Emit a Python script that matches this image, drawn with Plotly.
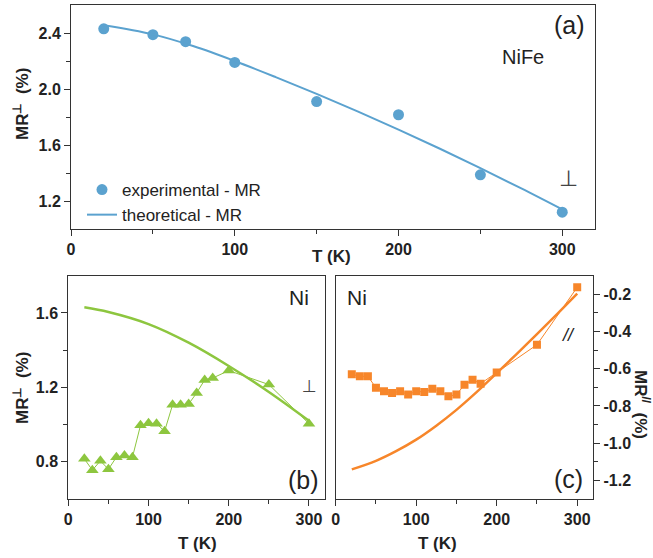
import plotly.graph_objects as go

# ---------------- data ----------------
# (a) NiFe, perpendicular
T_a_exp = [20, 50, 70, 100, 150, 200, 250, 300]
MR_a_exp = [2.43, 2.388, 2.338, 2.19, 1.91, 1.816, 1.387, 1.12]
T_a_th = [20, 50, 75, 100, 125, 150, 175, 200, 225, 250, 275, 300]
MR_a_th = [2.455, 2.39, 2.305, 2.20, 2.085, 1.965, 1.84, 1.71, 1.575, 1.435, 1.29, 1.14]

# (b) Ni, perpendicular
T_b_exp = [20, 30, 40, 50, 60, 70, 80, 90, 100, 110, 120, 130, 140, 150, 160, 170, 180, 200, 250, 300]
MR_b_exp = [0.816, 0.755, 0.805, 0.76, 0.825, 0.834, 0.825, 0.996, 1.007, 1.005, 0.964, 1.106,
            1.106, 1.11, 1.17, 1.24, 1.25, 1.29, 1.215, 1.005]
T_b_th = [20, 50, 100, 150, 200, 250, 300]
MR_b_th = [1.63, 1.605, 1.54, 1.44, 1.315, 1.175, 1.02]

# (c) Ni, parallel
T_c_exp = [20, 30, 40, 50, 60, 70, 80, 90, 100, 110, 120, 130, 140, 150, 160, 170, 180, 200, 250, 300]
MR_c_exp = [-0.629, -0.641, -0.641, -0.702, -0.721, -0.730, -0.721, -0.739, -0.721, -0.725, -0.707,
            -0.721, -0.748, -0.739, -0.686, -0.659, -0.68, -0.62, -0.471, -0.1625]
T_c_th = [20, 50, 75, 100, 125, 150, 175, 200, 225, 250, 275, 300]
MR_c_th = [-1.141, -1.095, -1.043, -0.981, -0.906, -0.821, -0.726, -0.624, -0.52, -0.414, -0.306, -0.196]

x_ticks = [0, 100, 200, 300]
ya_ticks = [1.2, 1.6, 2.0, 2.4]
yb_ticks = [0.8, 1.2, 1.6]
yc_ticks = [-1.2, -1.0, -0.8, -0.6, -0.4, -0.2]
yc_labels = ["-1.2", "-1.0", "-0.8", "-0.6", "-0.4", "-0.2"]

BLUE = "#5BA2CF"
GREEN = "#8DC63F"
ORANGE = "#F7862A"
AX = "#333333"
TXT = "#222222"
FONT = "Liberation Sans"

W, H = 653, 558

def dx(a, b):
    return [a / W, b / W]

def dy(top, bot):
    return [1 - bot / H, 1 - top / H]

fig = go.Figure()

# panel (a)
fig.add_trace(go.Scatter(x=T_a_exp, y=MR_a_exp, mode="markers", name="experimental - MR",
                         marker=dict(symbol="circle", size=11, color=BLUE),
                         xaxis="x", yaxis="y"))
fig.add_trace(go.Scatter(x=T_a_th, y=MR_a_th, mode="lines", name="theoretical - MR",
                         line=dict(color=BLUE, width=2, shape="spline"),
                         xaxis="x", yaxis="y"))
# panel (b)
fig.add_trace(go.Scatter(x=T_b_exp, y=MR_b_exp, mode="lines+markers", showlegend=False,
                         marker=dict(symbol="triangle-up", size=11, color=GREEN),
                         line=dict(color=GREEN, width=1),
                         xaxis="x2", yaxis="y2"))
fig.add_trace(go.Scatter(x=T_b_th, y=MR_b_th, mode="lines", showlegend=False,
                         line=dict(color=GREEN, width=2.5, shape="spline"),
                         xaxis="x2", yaxis="y2"))
# panel (c)
fig.add_trace(go.Scatter(x=T_c_exp, y=MR_c_exp, mode="lines+markers", showlegend=False,
                         marker=dict(symbol="square", size=8, color=ORANGE),
                         line=dict(color=ORANGE, width=1),
                         xaxis="x3", yaxis="y3"))
fig.add_trace(go.Scatter(x=T_c_th, y=MR_c_th, mode="lines", showlegend=False,
                         line=dict(color=ORANGE, width=2.5, shape="spline"),
                         xaxis="x3", yaxis="y3"))

tickfont = dict(family=FONT, size=16, color=TXT, weight="bold")

def xax(domain, anchor):
    return dict(domain=domain, anchor=anchor, range=[0, 320], tickvals=x_ticks,
                ticks="outside", ticklen=6, tickwidth=1, tickcolor=AX,
                showline=True, linecolor=AX, linewidth=1, mirror=True,
                showgrid=False, zeroline=False, tickfont=tickfont, automargin=False,
                minor=dict(tickvals=[50, 150, 250], ticks="outside", ticklen=4, tickcolor=AX))

def yax(domain, anchor, rng, tv, minor_vals, side="left", tt=None):
    d = dict(domain=domain, anchor=anchor, range=rng, tickvals=tv, side=side,
             tickformat=".1f",
             ticks="outside", ticklen=6, tickwidth=1, tickcolor=AX,
             showline=True, linecolor=AX, linewidth=1, mirror=True,
             showgrid=False, zeroline=False, tickfont=tickfont, automargin=False,
             minor=dict(tickvals=minor_vals, ticks="outside", ticklen=4, tickcolor=AX))
    if tt is not None:
        d["ticktext"] = tt
    return d

fig.update_layout(
    width=W, height=H, margin=dict(l=0, r=0, t=0, b=0),
    paper_bgcolor="white", plot_bgcolor="white",
    xaxis=xax(dx(71, 595), "y"),
    yaxis=yax(dy(5, 229), "x", [1.0, 2.6], ya_ticks, [1.4, 1.8, 2.2]),
    xaxis2=xax(dx(68.3, 325), "y2"),
    yaxis2=yax(dy(275.7, 499), "x2", [0.6, 1.8], yb_ticks, [1.0, 1.4]),
    xaxis3=xax(dx(335.7, 593.3), "y3"),
    yaxis3=yax(dy(275.7, 499), "x3", [-1.3, -0.1], yc_ticks,
               [-1.1, -0.9, -0.7, -0.5, -0.3], side="right", tt=yc_labels),
    legend=dict(x=82 / W, y=1 - 172 / H, xanchor="left", yanchor="top",
                bgcolor="rgba(0,0,0,0)", font=dict(family=FONT, size=17, color=TXT),
                tracegroupgap=0),
    showlegend=True,
)

def ann(text, x, y, size, angle=0, bold=False, italic=False, family=FONT, color=TXT):
    fig.add_annotation(text=text, x=x / W, y=1 - y / H, xref="paper", yref="paper",
                       showarrow=False, textangle=angle, xanchor="center", yanchor="middle",
                       font=dict(family=family, size=size, color=color,
                                 weight="bold" if bold else "normal",
                                 style="italic" if italic else "normal"))

# axis titles
ann("T (K)", 331, 256, 17, bold=True)
ann("T (K)", 197, 543, 17, bold=True)
ann("T (K)", 437, 543, 17, bold=True)
ann("MR<sup>⊥</sup>  (%)", 21, 104, 17, angle=-90, bold=True)
ann("MR<sup>⊥</sup>  (%)", 21, 388, 17, angle=-90, bold=True)
ann("MR<sup>//</sup>  (%)", 642, 404, 17, angle=90, bold=True)

# panel labels
ann("(a)", 569, 25, 25)
ann("NiFe", 523, 57, 20)
ann("⊥", 568, 179, 22, family="DejaVu Sans", color="#444444")
ann("Ni", 299, 297, 21)
ann("⊥", 309, 386, 17, family="DejaVu Sans", color="#444444")
ann("(b)", 303, 480, 25)
ann("Ni", 357, 297, 21)
ann("//", 568, 335, 18, italic=True)
ann("(c)", 568, 479, 25)

fig.write_html("out.html", config={"displayModeBar": False},
               post_script="document.body.style.margin='0';document.body.style.padding='0';")
